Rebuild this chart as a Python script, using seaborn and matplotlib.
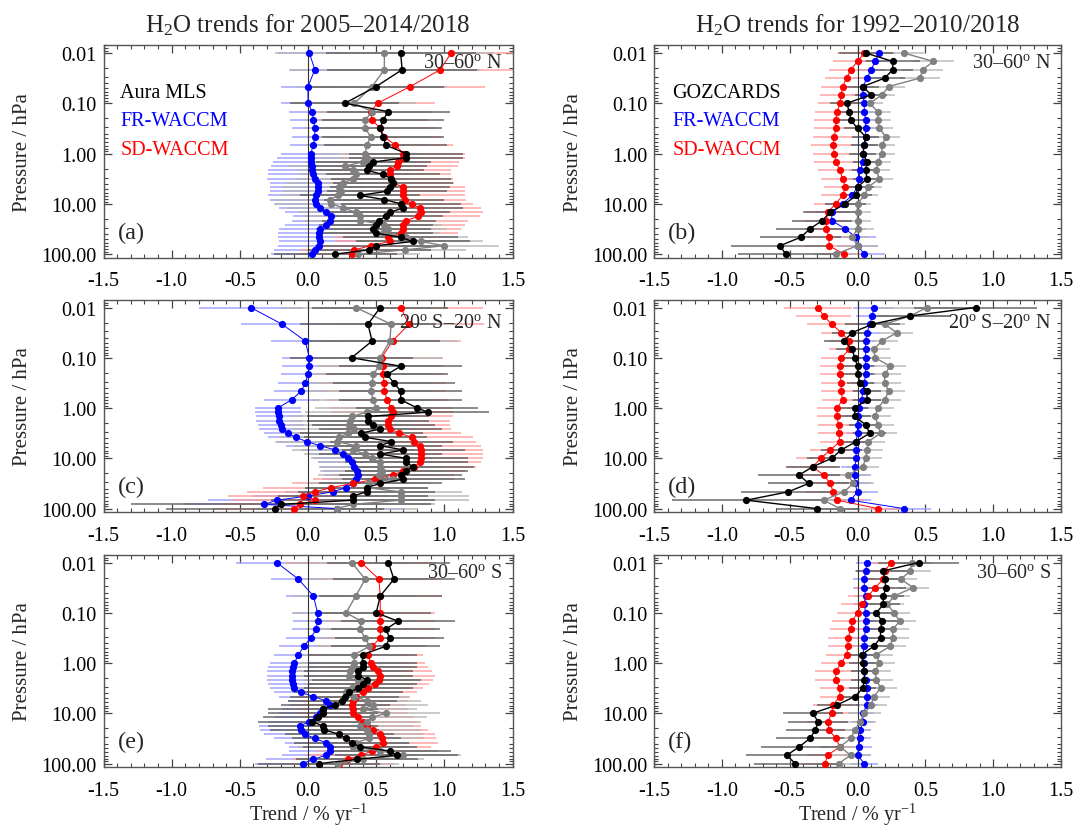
import matplotlib
matplotlib.use("Agg")
import matplotlib.pyplot as plt
import seaborn as sns
from matplotlib.ticker import FixedLocator, MultipleLocator, FormatStrFormatter, LogLocator, NullFormatter

# ---------------------------
# pressure levels (hPa)
# ---------------------------
p_mls = [0.01, 0.0215, 0.0464, 0.1, 0.147, 0.215, 0.316, 0.464, 0.681, 1.0,
         1.21, 1.47, 1.78, 2.15, 2.61, 3.16, 3.83, 4.64, 5.62, 6.81, 8.25, 10.0,
         12.1, 14.7, 17.8, 21.5, 26.1, 31.6, 38.3, 46.4, 56.2, 68.1, 82.5, 100.0]
p_goz = [0.01, 0.0147, 0.0215, 0.0316, 0.0464, 0.0681, 0.1, 0.147, 0.215, 0.316,
         0.464, 0.681, 1.0, 1.47, 2.15, 3.16, 4.64, 6.81, 10.0, 14.7, 21.5, 31.6,
         46.4, 68.1, 100.0]

# ---------------------------
# (a) 30-60N, 2005-2014/2018
# ---------------------------
a_obs = [0.68, 0.69, 0.50, 0.27, 0.59, 0.55, 0.53, 0.55, 0.57, 0.72,
         0.72, 0.48, 0.45, 0.43, 0.55, 0.61, 0.62, 0.60, 0.58, 0.38,
         0.56, 0.68, 0.70, 0.60, 0.57, 0.52, 0.50, 0.48, 0.50, 0.68,
         0.77, 0.50, 0.45, 0.20]
a_obs_err = [0.55, 0.55, 0.50, 0.40, 0.45, 0.45, 0.45, 0.45, 0.45, 0.42,
             0.42, 0.42, 0.42, 0.42, 0.42, 0.44, 0.44, 0.44, 0.44, 0.44,
             0.44, 0.44, 0.44, 0.44, 0.42, 0.42, 0.42, 0.42, 0.42, 0.42,
             0.42, 0.45, 0.45, 0.45]
a_full = [0.56, 0.56, 0.47, 0.34, 0.47, 0.42, 0.42, 0.46, 0.43, 0.42,
          0.43, 0.40, 0.27, 0.33, 0.35, 0.33, 0.26, 0.23, 0.24, 0.22,
          0.16, 0.17, 0.26, 0.35, 0.38, 0.38, 0.56, 0.59, 0.55, 0.72,
          0.83, 1.00, 0.71, 0.37]
a_full_err = [0.80, 0.70, 0.55, 0.45, 0.45, 0.45, 0.45, 0.45, 0.45, 0.42,
              0.42, 0.42, 0.42, 0.42, 0.42, 0.42, 0.42, 0.42, 0.42, 0.42,
              0.42, 0.42, 0.42, 0.42, 0.42, 0.42, 0.42, 0.42, 0.42, 0.45,
              0.45, 0.40, 0.45, 0.45]
a_fr = [0.01, 0.05, 0.00, 0.00, 0.03, 0.04, 0.05, 0.05, 0.04, 0.02,
        0.02, 0.02, 0.03, 0.03, 0.04, 0.05, 0.07, 0.07, 0.07, 0.06,
        0.05, 0.06, 0.09, 0.13, 0.17, 0.16, 0.13, 0.09, 0.08, 0.08,
        0.09, 0.08, 0.05, 0.03]
a_fr_err = [0.23, 0.18, 0.20, 0.20, 0.17, 0.17, 0.17, 0.17, 0.17, 0.22,
            0.25, 0.28, 0.30, 0.32, 0.33, 0.35, 0.35, 0.35, 0.35, 0.35,
            0.33, 0.30, 0.30, 0.30, 0.28, 0.28, 0.30, 0.30, 0.30, 0.30,
            0.30, 0.30, 0.30, 0.30]
a_sd = [1.05, 0.97, 0.75, 0.51, 0.46, 0.47, 0.53, 0.56, 0.64, 0.70,
        0.70, 0.66, 0.65, 0.60, 0.60, 0.61, 0.62, 0.70, 0.70, 0.70,
        0.71, 0.76, 0.82, 0.83, 0.81, 0.72, 0.70, 0.70, 0.68, 0.59,
        0.60, 0.46, 0.34, 0.32]
a_sd_err = [0.85, 0.80, 0.55, 0.42, 0.42, 0.42, 0.42, 0.42, 0.42, 0.45,
            0.45, 0.45, 0.45, 0.45, 0.45, 0.45, 0.45, 0.45, 0.45, 0.45,
            0.45, 0.45, 0.45, 0.45, 0.45, 0.45, 0.45, 0.42, 0.42, 0.40,
            0.40, 0.40, 0.40, 0.40]

# ---------------------------
# (c) 20S-20N, 2005-2014/2018
# ---------------------------
c_obs = [0.53, 0.44, 0.47, 0.32, 0.68, 0.58, 0.63, 0.68, 0.68, 0.80,
         0.88, 0.44, 0.44, 0.48, 0.53, 0.39, 0.42, 0.61, 0.53, 0.70,
         0.53, 0.72, 0.72, 0.77, 0.72, 0.68, 0.70, 0.53, 0.43, 0.43,
         0.33, 0.33, -0.20, -0.24]
c_obs_err = [0.50, 0.50, 0.50, 0.45, 0.45, 0.45, 0.45, 0.45, 0.45, 0.45,
             0.45, 0.45, 0.45, 0.45, 0.45, 0.45, 0.45, 0.45, 0.45, 0.45,
             0.45, 0.45, 0.45, 0.45, 0.45, 0.45, 0.45, 0.45, 0.45, 0.50,
             0.55, 0.60, 1.10, 0.80]
c_full = [0.35, 0.61, 0.60, 0.53, 0.52, 0.48, 0.47, 0.46, 0.48, 0.50,
          0.43, 0.32, 0.31, 0.30, 0.34, 0.29, 0.23, 0.21, 0.35, 0.33,
          0.42, 0.47, 0.53, 0.53, 0.54, 0.52, 0.62, 0.45, 0.43, 0.68,
          0.68, 0.68, 0.33, 0.21]
c_full_err = [0.55, 0.50, 0.50, 0.45, 0.45, 0.45, 0.45, 0.45, 0.45, 0.45,
              0.45, 0.45, 0.45, 0.45, 0.45, 0.45, 0.45, 0.45, 0.45, 0.45,
              0.45, 0.45, 0.45, 0.45, 0.45, 0.45, 0.45, 0.45, 0.45, 0.45,
              0.50, 0.50, 0.60, 0.60]
c_fr = [-0.42, -0.19, -0.02, 0.01, 0.01, 0.00, -0.02, -0.05, -0.12, -0.22,
        -0.22, -0.21, -0.21, -0.20, -0.19, -0.15, -0.09, -0.01, 0.09, 0.20,
        0.26, 0.29, 0.32, 0.34, 0.36, 0.37, 0.35, 0.33, 0.28, 0.18,
        0.00, -0.23, -0.32, 0.21]
c_fr_err = [0.38, 0.30, 0.25, 0.20, 0.20, 0.20, 0.20, 0.20, 0.20, 0.17,
            0.17, 0.17, 0.17, 0.17, 0.17, 0.17, 0.20, 0.22, 0.25, 0.25,
            0.25, 0.25, 0.25, 0.25, 0.25, 0.25, 0.25, 0.25, 0.30, 0.35,
            0.40, 0.50, 0.60, 0.50]
c_sd = [0.68, 0.74, 0.62, 0.54, 0.55, 0.55, 0.56, 0.56, 0.58, 0.61,
        0.62, 0.61, 0.59, 0.59, 0.60, 0.67, 0.76, 0.78, 0.82, 0.83,
        0.83, 0.83, 0.82, 0.78, 0.70, 0.62, 0.49, 0.33, 0.17, 0.05,
        -0.04, 0.05, -0.06, -0.10]
c_sd_err = [0.60, 0.55, 0.50, 0.45, 0.45, 0.45, 0.45, 0.45, 0.45, 0.45,
            0.45, 0.45, 0.45, 0.45, 0.45, 0.45, 0.45, 0.45, 0.45, 0.45,
            0.45, 0.45, 0.45, 0.45, 0.45, 0.45, 0.45, 0.45, 0.50, 0.50,
            0.55, 0.60, 0.60, 0.60]

# ---------------------------
# (e) 30-60S, 2005-2014/2018
# ---------------------------
e_obs = [0.59, 0.63, 0.53, 0.50, 0.66, 0.57, 0.60, 0.57, 0.40, 0.40,
         0.40, 0.37, 0.37, 0.43, 0.40, 0.37, 0.30, 0.27, 0.25, 0.20,
         0.11, 0.11, 0.07, 0.03, 0.11, 0.12, 0.23, 0.28, 0.32, 0.38,
         0.60, 0.65, 0.36, 0.08]
e_obs_err = [0.45, 0.45, 0.45, 0.40, 0.42, 0.40, 0.40, 0.40, 0.40, 0.40,
             0.40, 0.40, 0.40, 0.40, 0.40, 0.40, 0.40, 0.40, 0.40, 0.40,
             0.40, 0.40, 0.40, 0.40, 0.40, 0.40, 0.40, 0.40, 0.42, 0.42,
             0.45, 0.45, 0.45, 0.45]
e_full = [0.32, 0.42, 0.35, 0.28, 0.39, 0.38, 0.42, 0.45, 0.34, 0.34,
          0.33, 0.31, 0.30, 0.37, 0.37, 0.32, 0.28, 0.34, 0.43, 0.48,
          0.40, 0.57, 0.47, 0.43, 0.38, 0.43, 0.45, 0.45, 0.35, 0.33,
          0.53, 0.70, 0.40, 0.22]
e_full_err = [0.45, 0.45, 0.45, 0.40, 0.40, 0.40, 0.40, 0.40, 0.40, 0.40,
              0.40, 0.40, 0.40, 0.40, 0.40, 0.40, 0.40, 0.40, 0.40, 0.40,
              0.40, 0.40, 0.40, 0.40, 0.40, 0.40, 0.40, 0.40, 0.40, 0.40,
              0.42, 0.42, 0.45, 0.45]
e_fr = [-0.23, -0.07, 0.04, 0.07, 0.07, 0.06, 0.02, -0.03, -0.07, -0.10,
        -0.11, -0.12, -0.12, -0.12, -0.11, -0.10, -0.05, 0.04, 0.13, 0.16,
        0.11, 0.09, 0.06, 0.01, -0.06, -0.05, -0.02, 0.05, 0.13, 0.16,
        0.16, 0.13, 0.04, -0.04]
e_fr_err = [0.30, 0.20, 0.20, 0.18, 0.18, 0.18, 0.18, 0.18, 0.18, 0.18,
            0.18, 0.18, 0.18, 0.18, 0.18, 0.18, 0.20, 0.25, 0.28, 0.30,
            0.30, 0.30, 0.30, 0.30, 0.30, 0.30, 0.30, 0.30, 0.30, 0.30,
            0.30, 0.32, 0.35, 0.35]
e_sd = [0.39, 0.52, 0.53, 0.53, 0.53, 0.53, 0.53, 0.47, 0.44, 0.46,
        0.48, 0.51, 0.53, 0.52, 0.49, 0.44, 0.40, 0.35, 0.33, 0.32,
        0.33, 0.33, 0.37, 0.40, 0.43, 0.48, 0.53, 0.54, 0.55, 0.50,
        0.47, 0.39, 0.29, 0.23]
e_sd_err = [0.55, 0.45, 0.45, 0.40, 0.40, 0.40, 0.40, 0.40, 0.40, 0.40,
            0.40, 0.40, 0.40, 0.40, 0.40, 0.40, 0.40, 0.40, 0.40, 0.40,
            0.40, 0.40, 0.40, 0.40, 0.40, 0.40, 0.40, 0.40, 0.40, 0.40,
            0.40, 0.40, 0.40, 0.40]

# ---------------------------
# (b) 30-60N, 1992-2010/2018
# ---------------------------
b_obs = [0.06, 0.26, 0.26, 0.20, 0.04, 0.10, -0.08, -0.06, -0.05, 0.00,
         0.06, 0.05, 0.04, 0.07, 0.06, 0.07, 0.00, -0.01, -0.09, -0.20,
         -0.26, -0.35, -0.42, -0.57, -0.53]
b_obs_err = [0.20, 0.20, 0.15, 0.15, 0.12, 0.12, 0.12, 0.10, 0.10, 0.10,
             0.10, 0.10, 0.10, 0.10, 0.10, 0.10, 0.12, 0.12, 0.15, 0.20,
             0.22, 0.25, 0.30, 0.36, 0.35]
b_full = [0.34, 0.56, 0.48, 0.46, 0.23, 0.18, 0.09, 0.15, 0.15, 0.16,
          0.21, 0.18, 0.18, 0.15, 0.14, 0.16, 0.08, 0.05, 0.00, 0.00,
          0.00, 0.00, -0.04, 0.00, -0.16]
b_full_err = [0.15, 0.15, 0.15, 0.15, 0.12, 0.10, 0.10, 0.10, 0.10, 0.10,
              0.10, 0.10, 0.10, 0.10, 0.10, 0.10, 0.10, 0.10, 0.10, 0.10,
              0.10, 0.12, 0.12, 0.15, 0.15]
b_fr = [0.16, 0.13, 0.10, 0.07, 0.04, 0.04, 0.05, 0.05, 0.06, 0.06,
        0.06, 0.05, 0.04, 0.04, 0.02, 0.01, 0.00, -0.04, -0.11, -0.19,
        -0.19, -0.09, -0.01, 0.00, 0.05]
b_fr_err = [0.12, 0.12, 0.10, 0.10, 0.08, 0.08, 0.08, 0.08, 0.08, 0.08,
            0.08, 0.08, 0.08, 0.08, 0.08, 0.08, 0.08, 0.10, 0.12, 0.12,
            0.12, 0.15, 0.15, 0.15, 0.15]
b_sd = [0.05, 0.00, -0.05, -0.08, -0.11, -0.12, -0.13, -0.15, -0.16, -0.16,
        -0.17, -0.18, -0.17, -0.16, -0.13, -0.11, -0.09, -0.11, -0.16, -0.22,
        -0.23, -0.23, -0.21, -0.21, -0.10]
b_sd_err = [0.20, 0.18, 0.16, 0.16, 0.16, 0.16, 0.16, 0.16, 0.16, 0.16,
            0.16, 0.16, 0.16, 0.16, 0.16, 0.16, 0.16, 0.16, 0.16, 0.16,
            0.16, 0.16, 0.16, 0.18, 0.18]

# ---------------------------
# (d) 20S-20N, 1992-2010/2018
# ---------------------------
d_obs = [0.87, 0.39, 0.11, -0.04, -0.10, -0.04, -0.02, 0.00, 0.00, 0.02,
         0.07, 0.07, -0.02, -0.02, 0.06, 0.09, -0.01, -0.12, -0.19, -0.33,
         -0.43, -0.36, -0.51, -0.82, -0.30]
d_obs_err = [0.45, 0.30, 0.20, 0.15, 0.15, 0.12, 0.12, 0.12, 0.12, 0.10,
             0.10, 0.10, 0.10, 0.12, 0.12, 0.12, 0.12, 0.15, 0.18, 0.20,
             0.30, 0.30, 0.35, 0.55, 0.30]
d_full = [0.51, 0.39, 0.20, 0.29, 0.18, 0.12, 0.13, 0.24, 0.20, 0.20,
          0.23, 0.20, 0.15, 0.13, 0.15, 0.17, 0.08, 0.07, 0.06, 0.04,
          -0.07, -0.03, -0.10, -0.25, -0.13]
d_full_err = [0.35, 0.30, 0.15, 0.12, 0.12, 0.12, 0.12, 0.12, 0.12, 0.12,
              0.12, 0.12, 0.12, 0.12, 0.12, 0.12, 0.12, 0.12, 0.12, 0.12,
              0.15, 0.15, 0.18, 0.20, 0.20]
d_fr = [0.12, 0.11, 0.09, 0.07, 0.06, 0.06, 0.06, 0.06, 0.06, 0.05,
        0.04, 0.03, 0.01, 0.00, 0.00, 0.00, -0.01, -0.01, -0.01, -0.02,
        -0.02, -0.02, 0.00, -0.05, 0.34]
d_fr_err = [0.15, 0.12, 0.10, 0.10, 0.08, 0.08, 0.08, 0.08, 0.08, 0.08,
            0.08, 0.08, 0.08, 0.08, 0.08, 0.08, 0.08, 0.08, 0.10, 0.10,
            0.12, 0.12, 0.15, 0.15, 0.20]
d_sd = [-0.29, -0.25, -0.19, -0.12, -0.06, -0.06, -0.12, -0.13, -0.13, -0.12,
        -0.12, -0.11, -0.15, -0.15, -0.14, -0.14, -0.13, -0.20, -0.27, -0.33,
        -0.25, -0.20, -0.18, -0.15, 0.15]
d_sd_err = [0.25, 0.20, 0.18, 0.15, 0.15, 0.15, 0.15, 0.15, 0.15, 0.15,
            0.15, 0.15, 0.15, 0.15, 0.15, 0.15, 0.15, 0.15, 0.18, 0.18,
            0.18, 0.18, 0.20, 0.20, 0.20]

# ---------------------------
# (f) 30-60S, 1992-2010/2018
# ---------------------------
f_obs = [0.45, 0.19, 0.20, 0.21, 0.19, 0.19, 0.14, 0.18, 0.17, 0.17,
         0.12, 0.03, 0.04, 0.05, 0.05, 0.04, -0.02, -0.15, -0.33, -0.29,
         -0.31, -0.35, -0.43, -0.52, -0.46]
f_obs_err = [0.30, 0.20, 0.15, 0.15, 0.15, 0.12, 0.12, 0.12, 0.10, 0.10,
             0.10, 0.10, 0.10, 0.10, 0.10, 0.10, 0.12, 0.15, 0.22, 0.22,
             0.22, 0.25, 0.28, 0.30, 0.30]
f_full = [0.40, 0.39, 0.32, 0.41, 0.27, 0.22, 0.27, 0.31, 0.26, 0.26,
          0.24, 0.14, 0.16, 0.13, 0.14, 0.17, 0.12, 0.10, 0.05, 0.02,
          -0.02, -0.05, -0.13, -0.05, -0.14]
f_full_err = [0.15, 0.15, 0.12, 0.12, 0.12, 0.12, 0.12, 0.12, 0.12, 0.12,
              0.12, 0.12, 0.12, 0.12, 0.12, 0.12, 0.12, 0.12, 0.12, 0.12,
              0.12, 0.12, 0.15, 0.15, 0.15]
f_fr = [0.07, 0.06, 0.05, 0.05, 0.06, 0.05, 0.06, 0.06, 0.06, 0.05,
        0.05, 0.04, 0.05, 0.05, 0.06, 0.07, 0.07, 0.07, 0.04, 0.04,
        0.02, 0.02, 0.01, 0.00, 0.05]
f_fr_err = [0.08, 0.08, 0.08, 0.08, 0.08, 0.08, 0.08, 0.08, 0.08, 0.08,
            0.08, 0.08, 0.08, 0.08, 0.08, 0.08, 0.08, 0.08, 0.08, 0.08,
            0.08, 0.08, 0.10, 0.10, 0.10]
f_sd = [0.25, 0.20, 0.19, 0.13, 0.08, 0.03, 0.00, -0.04, -0.05, -0.07,
        -0.07, -0.08, -0.12, -0.16, -0.16, -0.13, -0.13, -0.18, -0.19, -0.22,
        -0.21, -0.16, -0.13, -0.22, -0.24]
f_sd_err = [0.15, 0.15, 0.15, 0.15, 0.15, 0.15, 0.15, 0.15, 0.15, 0.15,
            0.15, 0.15, 0.15, 0.15, 0.15, 0.15, 0.15, 0.15, 0.15, 0.15,
            0.15, 0.15, 0.15, 0.15, 0.15]

# ---------------------------
# panel setup
# ---------------------------
titles = ["H$_2$O trends for 2005\u20132014/2018", "H$_2$O trends for 1992\u20132010/2018"]
obs_names = ["Aura MLS", "GOZCARDS"]
regions = ["30\u201360$^{\\mathrm{o}}$ N", "20$^{\\mathrm{o}}$ S\u201320$^{\\mathrm{o}}$ N",
           "30\u201360$^{\\mathrm{o}}$ S"]
letters = ["(a)", "(b)", "(c)", "(d)", "(e)", "(f)"]

panels = [
    (p_mls, a_obs, a_obs_err, a_full, a_full_err, a_fr, a_fr_err, a_sd, a_sd_err),
    (p_goz, b_obs, b_obs_err, b_full, b_full_err, b_fr, b_fr_err, b_sd, b_sd_err),
    (p_mls, c_obs, c_obs_err, c_full, c_full_err, c_fr, c_fr_err, c_sd, c_sd_err),
    (p_goz, d_obs, d_obs_err, d_full, d_full_err, d_fr, d_fr_err, d_sd, d_sd_err),
    (p_mls, e_obs, e_obs_err, e_full, e_full_err, e_fr, e_fr_err, e_sd, e_sd_err),
    (p_goz, f_obs, f_obs_err, f_full, f_full_err, f_fr, f_fr_err, f_sd, f_sd_err),
]

sns.set_theme(style="ticks")
plt.rcParams['font.family'] = ['Liberation Serif', 'DejaVu Serif']
plt.rcParams['mathtext.fontset'] = 'custom'
plt.rcParams['mathtext.rm'] = 'Liberation Serif'
plt.rcParams['mathtext.it'] = 'Liberation Serif:italic'
plt.rcParams['mathtext.bf'] = 'Liberation Serif:bold'

W, H = 1075, 829
fig = plt.figure(figsize=(W / 100, H / 100), dpi=100)

col_x = [103.5, 654.0]
col_w = [409.0, 407.0]
row_top = [46.0, 300.5, 555.5]
row_h = 212.5

# line colour, errorbar colour, line width
styles = {
    'fr': ('#0000ff', '#9a9aff', 0.7),
    'sd': ('#ff0000', '#ff9a9a', 0.7),
    'full': ('#808080', '#b4b4b4', 1.0),
    'obs': ('#000000', '#5a5a5a', 1.0),
}

for i, (p, obs, obs_e, full, full_e, fr, fr_e, sd, sd_e) in enumerate(panels):
    row, col = i // 2, i % 2
    ax = fig.add_axes([col_x[col] / W, 1 - (row_top[row] + row_h) / H,
                       col_w[col] / W, row_h / H])
    ax.set_yscale('log')

    series = [('fr', fr, fr_e), ('sd', sd, sd_e), ('full', full, full_e), ('obs', obs, obs_e)]
    for key, vals, errs in series:
        c, ec, lw = styles[key]
        ax.errorbar(vals, p, xerr=errs, fmt='none', ecolor=ec, elinewidth=1.1,
                    capsize=0, zorder=1, alpha=0.9)
    ax.axvline(0, color='#333333', lw=0.8, zorder=2)
    for key, vals, errs in series:
        c, ec, lw = styles[key]
        sns.lineplot(x=vals, y=p, orient='y', sort=False, estimator=None, ax=ax,
                     color=c, linewidth=lw, marker='o', markersize=5.2,
                     markeredgewidth=0, legend=False, zorder=3)

    ax.set_xlim(-1.5, 1.5)
    ax.set_ylim(117, 0.00693)
    ax.yaxis.set_major_locator(FixedLocator([0.01, 0.1, 1, 10, 100]))
    ax.yaxis.set_major_formatter(FormatStrFormatter('%.2f'))
    ax.yaxis.set_minor_locator(LogLocator(base=10, subs=range(2, 10), numticks=20))
    ax.yaxis.set_minor_formatter(NullFormatter())
    ax.xaxis.set_major_locator(MultipleLocator(0.5))
    ax.xaxis.set_major_formatter(FormatStrFormatter('%.1f'))
    ax.xaxis.set_minor_locator(MultipleLocator(0.1))
    ax.tick_params(which='both', direction='in', top=True, right=True,
                   color='#444444', labelsize=14.5, labelcolor='black')
    ax.tick_params(which='major', length=6, width=0.9)
    ax.tick_params(which='minor', length=3, width=0.8)
    ax.tick_params(axis='x', pad=10)
    ax.tick_params(axis='y', pad=5)
    for s in ax.spines.values():
        s.set_color('#555555')
        s.set_linewidth(1.0)

    ax.set_ylabel("Pressure / hPa", fontsize=15)
    ax.yaxis.set_label_coords(-0.175, 0.5)
    if row == 2:
        ax.set_xlabel("Trend / % yr$^{-1}$", fontsize=14.5)
        ax.xaxis.set_label_coords(0.5, -0.222)
        ax.xaxis.label.set_va('center')
    else:
        ax.set_xlabel("")

    ax.text(0.975, [0.92, 0.89, 0.915][row], regions[row], transform=ax.transAxes,
            ha='right', va='center', fontsize=14.5)
    ax.text(0.034, 0.12, letters[i], transform=ax.transAxes, ha='left', va='center',
            fontsize=17.5)
    if row == 0:
        lx = 0.041 if col == 0 else 0.045
        ax.text(lx, 0.776, obs_names[col], transform=ax.transAxes, ha='left',
                va='center', fontsize=14.5, color='black')
        ax.text(lx, 0.643, "FR-WACCM", transform=ax.transAxes, ha='left',
                va='center', fontsize=14.5, color='#0000ff')
        ax.text(lx, 0.51, "SD-WACCM", transform=ax.transAxes, ha='left',
                va='center', fontsize=14.5, color='#ff0000')
        fig.text((col_x[col] + col_w[col] / 2) / W, 1 - 25 / H, titles[col],
                 ha='center', va='center', fontsize=18)

fig.savefig("out.png", dpi=100)
